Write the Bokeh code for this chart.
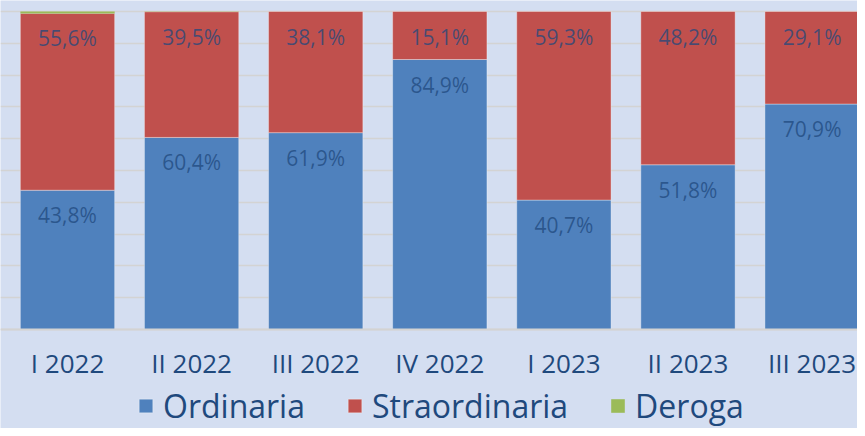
from bokeh.plotting import figure
from bokeh.models import (ColumnDataSource, Range1d, FixedTicker, Legend, LegendItem)
from bokeh.core.properties import value
from bokeh.embed import file_html
from bokeh.resources import INLINE

# ---- data ----
categories = ["I 2022", "II 2022", "III 2022", "IV 2022", "I 2023", "II 2023", "III 2023"]
ordinaria = [43.8, 60.4, 61.9, 84.9, 40.7, 51.8, 70.9]
straordinaria = [55.6, 39.5, 38.1, 15.1, 59.3, 48.2, 29.1]
deroga = [0.6, 0.1, 0.0, 0.0, 0.0, 0.0, 0.0]
series_names = ["Ordinaria", "Straordinaria", "Deroga"]
colors = ["#4F81BD", "#C0504D", "#9BBB59"]

xs = list(range(len(categories)))
s_bot = ordinaria
s_top = [a + b for a, b in zip(ordinaria, straordinaria)]
d_top = [a + b + c for a, b, c in zip(ordinaria, straordinaria, deroga)]

src = ColumnDataSource(dict(
    x=xs, o_top=ordinaria, s_bot=s_bot, s_top=s_top, d_top=d_top,
    o_lab=[f"{v:.1f}%".replace(".", ",") for v in ordinaria],
    s_lab=[f"{v:.1f}%".replace(".", ",") for v in straordinaria],
))

FONT = "Open Sans"
TXT = "#1F497D"
BG = "#D4DEF1"

p = figure(width=857, height=428, output_backend="svg", toolbar_location=None,
           x_range=Range1d(-0.540, 6.366), y_range=Range1d(-31.13, 103.46),
           min_border_left=0, min_border_right=0, min_border_top=0, min_border_bottom=0)
p.background_fill_color = BG
p.border_fill_color = BG
p.outline_line_color = None

bw = 0.76
r_o = p.vbar(x="x", top="o_top", bottom=0, width=bw, source=src, fill_color=colors[0],
             line_color="white", line_alpha=0.35, line_width=1)
r_s = p.vbar(x="x", top="s_top", bottom="s_bot", width=bw, source=src, fill_color=colors[1],
             line_color="white", line_alpha=0.35, line_width=1)
r_d = p.vbar(x="x", top="d_top", bottom="s_top", width=bw, source=src, fill_color=colors[2],
             line_color=None)

# data labels
for top, lab in (("o_top", "o_lab"), ("s_top", "s_lab")):
    p.text(x="x", y=top, text=lab, source=src, text_align="center", text_baseline="middle",
           y_offset=25, text_font=value(FONT), text_font_size="21px", text_color=TXT, text_alpha=0.75)

# axes
p.yaxis.visible = False
p.ygrid.ticker = FixedTicker(ticks=list(range(0, 101, 10)))
p.ygrid.grid_line_color = "#D3D3D3"
p.ygrid.grid_line_width = 1.5
p.xgrid.visible = False

ax = p.xaxis[0]
ax.fixed_location = 0
ax.ticker = FixedTicker(ticks=xs)
ax.major_label_overrides = {i: c for i, c in zip(xs, categories)}
ax.major_tick_line_color = None
ax.major_tick_out = 0
ax.major_tick_in = 0
ax.minor_tick_line_color = None
ax.axis_line_color = "#D3D3D3"
ax.axis_line_width = 2
ax.major_label_standoff = 15
ax.major_label_text_font = FONT
ax.major_label_text_font_size = "26px"
ax.major_label_text_color = TXT

legend = Legend(items=[LegendItem(label=n, renderers=[r]) for n, r in zip(series_names, [r_o, r_s, r_d])],
                orientation="horizontal", location=(137, 1),
                glyph_width=17, glyph_height=17, label_standoff=9, spacing=41,
                padding=0, margin=0, border_line_color=None, background_fill_alpha=0,
                label_text_font=FONT, label_text_font_size="32px", label_text_color=TXT)
p.add_layout(legend, "center")

open("out.html", "w").write(file_html(p, INLINE))
